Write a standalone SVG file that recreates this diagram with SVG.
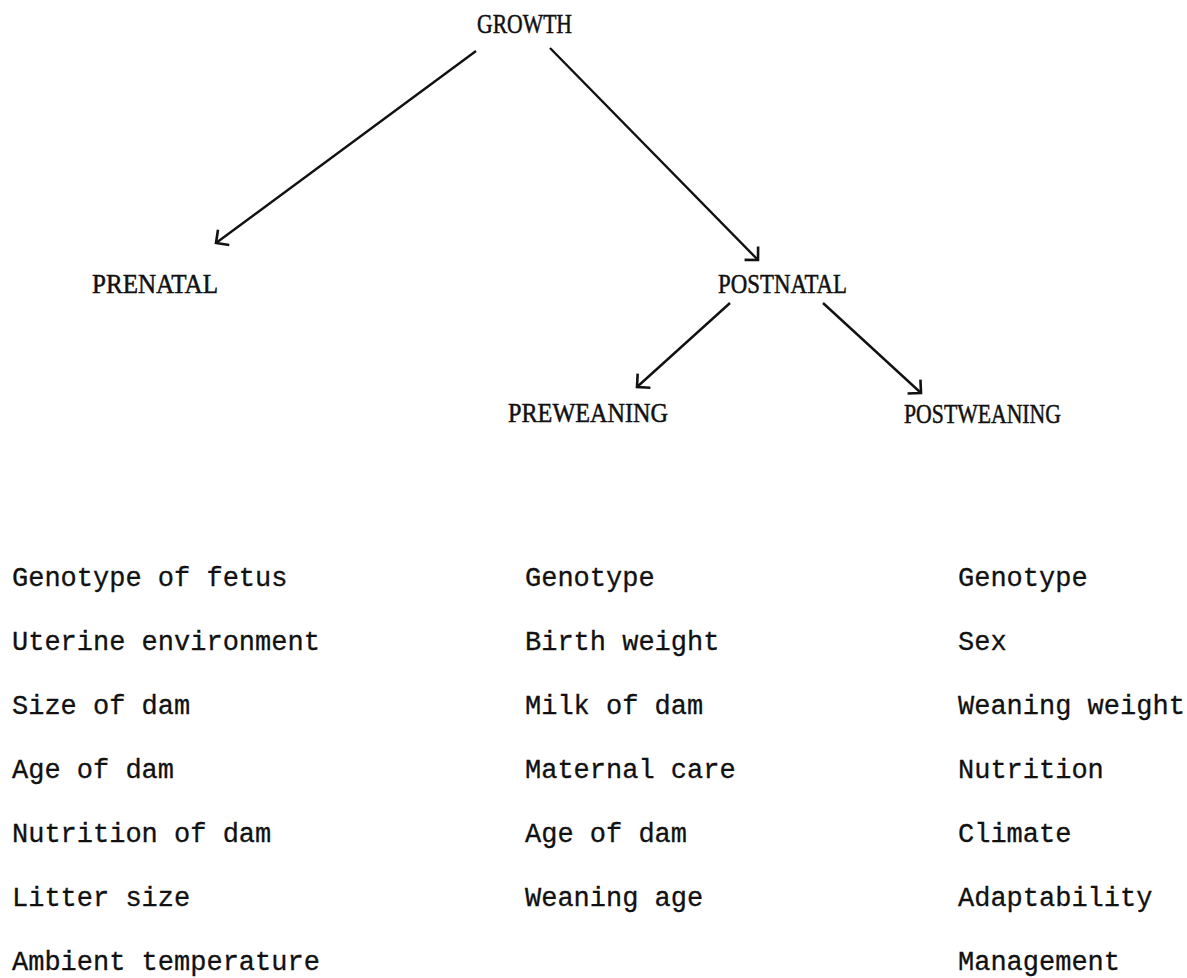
<svg xmlns="http://www.w3.org/2000/svg" width="1187" height="978" viewBox="0 0 1187 978">
<style>
.title{font-family:"Liberation Serif",serif;font-size:27px;fill:#111;stroke:#111;stroke-width:0.5}
.item{font-family:"Liberation Mono",monospace;font-size:27px;fill:#111;stroke:#111;stroke-width:0.3}
.edge{stroke:#111;stroke-width:2.4;fill:none}
</style>
<defs>
<marker id="arr" markerUnits="userSpaceOnUse" viewBox="-12 -12 14 24" refX="0" refY="0" markerWidth="14" markerHeight="24" orient="auto" overflow="visible">
<path d="M -9.5 -9.5 L 0 0 L -9.5 9.5" stroke="#111" stroke-width="2.6" fill="none"/>
</marker>
</defs>
<rect width="1187" height="978" fill="#fff"/>
<g id="connectors">
<line class="edge" x1="476" y1="51" x2="216" y2="243" marker-end="url(#arr)"/>
<line class="edge" x1="550" y1="48" x2="758" y2="260" marker-end="url(#arr)"/>
<line class="edge" x1="730" y1="303" x2="637" y2="387" marker-end="url(#arr)"/>
<line class="edge" x1="823" y1="303" x2="921" y2="393" marker-end="url(#arr)"/>
</g>
<g id="growth"><text class="title" x="477" y="33" textLength="95" lengthAdjust="spacingAndGlyphs">GROWTH</text></g>
<g id="prenatal"><text class="title" x="92" y="293" textLength="126" lengthAdjust="spacingAndGlyphs">PRENATAL</text></g>
<g id="postnatal"><text class="title" x="718" y="293" textLength="129" lengthAdjust="spacingAndGlyphs">POSTNATAL</text></g>
<g id="preweaning"><text class="title" x="508" y="422" textLength="160" lengthAdjust="spacingAndGlyphs">PREWEANING</text></g>
<g id="postweaning"><text class="title" x="904" y="423" textLength="157" lengthAdjust="spacingAndGlyphs">POSTWEANING</text></g>
<g id="prenatal-factors">
<text class="item" x="12" y="586">Genotype of fetus</text>
<text class="item" x="12" y="650">Uterine environment</text>
<text class="item" x="12" y="714">Size of dam</text>
<text class="item" x="12" y="778">Age of dam</text>
<text class="item" x="12" y="842">Nutrition of dam</text>
<text class="item" x="12" y="906">Litter size</text>
<text class="item" x="12" y="970">Ambient temperature</text>
</g>
<g id="preweaning-factors">
<text class="item" x="525" y="586">Genotype</text>
<text class="item" x="525" y="650">Birth weight</text>
<text class="item" x="525" y="714">Milk of dam</text>
<text class="item" x="525" y="778">Maternal care</text>
<text class="item" x="525" y="842">Age of dam</text>
<text class="item" x="525" y="906">Weaning age</text>
</g>
<g id="postweaning-factors">
<text class="item" x="958" y="586">Genotype</text>
<text class="item" x="958" y="650">Sex</text>
<text class="item" x="958" y="714">Weaning weight</text>
<text class="item" x="958" y="778">Nutrition</text>
<text class="item" x="958" y="842">Climate</text>
<text class="item" x="958" y="906">Adaptability</text>
<text class="item" x="958" y="970">Management</text>
</g>
</svg>
